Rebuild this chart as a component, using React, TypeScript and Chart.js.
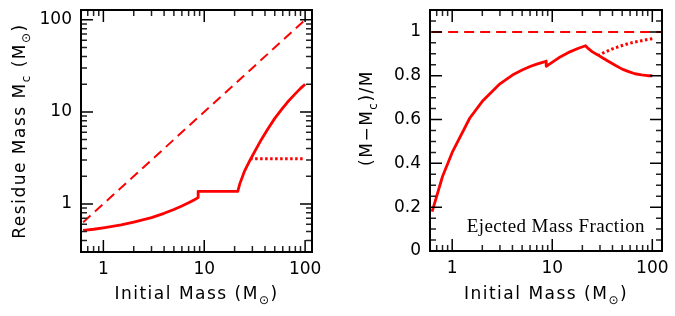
import React, { useEffect, useRef } from 'react';
import { Chart, registerables } from 'chart.js';
Chart.register(...registerables);

// ---------- data ----------
// Initial mass (Msun) and residue (core) mass Mc (Msun)
const MASS_LOW = [0.63, 0.8, 1, 1.5, 2, 3, 4, 5, 6, 7, 8, 8.7];
const CORE_LOW = [0.515, 0.53, 0.55, 0.59, 0.635, 0.71, 0.79, 0.87, 0.95, 1.03, 1.11, 1.17];
const MASS_MID = [8.7, 12, 15, 18, 21.5];
const CORE_MID = [1.37, 1.37, 1.37, 1.37, 1.37];
const MASS_HIGH = [21.5, 22.5, 25, 28.5, 32, 37, 43, 50, 58, 67, 78, 90, 100];
const CORE_HIGH = [1.37, 1.65, 2.25, 3.0, 3.8, 5.05, 6.6, 8.5, 10.5, 12.8, 15.3, 18, 20];
const MASS_ALT = [28.5, 100];
const CORE_ALT = [3.1, 3.1];
const MASS_IDENT = [0.63, 100];
const CORE_IDENT = [0.63, 100];

// Ejected mass fraction (M - Mc)/M
const FRAC_LOW = [0.18, 0.34, 0.45, 0.607, 0.683, 0.763, 0.803, 0.826, 0.842, 0.853, 0.861, 0.866];
const FRAC_MID = [0.843, 0.886, 0.909, 0.924, 0.937];
const FRAC_HIGH = [0.937, 0.927, 0.91, 0.895, 0.881, 0.864, 0.847, 0.83, 0.819, 0.809, 0.804, 0.8, 0.8];
const MASS_ALT_F = [28.5, 32, 37, 43, 50, 58, 67, 78, 90, 100];
const FRAC_ALT = [0.891, 0.903, 0.916, 0.928, 0.938, 0.947, 0.954, 0.96, 0.966, 0.969];
const MASS_TOTAL = [0.63, 125];
const FRAC_TOTAL = [1, 1];

// tick labels / tick marks
const LOG_LABELS = [1, 10, 100];
const X_MINOR = [0.7, 0.8, 0.9, 2, 3, 4, 5, 6, 7, 8, 9, 20, 30, 40, 50, 60, 70, 80, 90];
const LEFT_Y_MINOR = [0.4, 0.5, 0.6, 0.7, 0.8, 0.9, 2, 3, 4, 5, 6, 7, 8, 9, 20, 30, 40, 50, 60, 70, 80, 90];
const FRAC_LABELS = [0, 0.2, 0.4, 0.6, 0.8, 1];
const FRAC_MINOR = [0.05, 0.1, 0.15, 0.25, 0.3, 0.35, 0.45, 0.5, 0.55, 0.65, 0.7, 0.75, 0.85, 0.9, 0.95, 1.05];

const RED = '#ff0000';
const zip = (xs: number[], ys: number[]) => xs.map((x, i) => ({ x, y: ys[i] }));

type Part = { t: string; sub?: boolean };
type TitleSpec = { parts: Part[]; x: number; y: number; rot: number };

function drawRich(ctx: CanvasRenderingContext2D, spec: TitleSpec) {
  const font = '17px "DejaVu Sans"';
  const subFont = '12px "DejaVu Sans"';
  ctx.save();
  ctx.translate(spec.x, spec.y);
  ctx.rotate(spec.rot);
  (ctx as any).letterSpacing = '1.5px';
  ctx.textAlign = 'left';
  ctx.textBaseline = 'alphabetic';
  ctx.fillStyle = '#000';
  const widths = spec.parts.map((p) => {
    ctx.font = p.sub ? subFont : font;
    return ctx.measureText(p.t).width;
  });
  const total = widths.reduce((a, b) => a + b, 0);
  let x = -total / 2;
  spec.parts.forEach((p, i) => {
    ctx.font = p.sub ? subFont : font;
    ctx.fillText(p.t, x, p.sub ? 5 : 0);
    x += widths[i];
  });
  ctx.restore();
}

function framePlugin(cfg: {
  xMajor: number[]; xMinor: number[]; yMajor: number[]; yMinor: number[];
  titles: TitleSpec[]; note?: { text: string; x: number; y: number };
}) {
  return {
    id: 'frameTicks',
    afterDatasetsDraw(chart: any) {
      const { ctx, chartArea: a, scales } = chart;
      const xs = scales.x;
      const ys = scales.y;
      ctx.save();
      ctx.strokeStyle = '#222';
      ctx.lineWidth = 1.5;
      const MAJ = 12;
      const MIN = 6;
      const xTicks = (vals: number[], len: number) => {
        vals.forEach((v) => {
          const p = xs.getPixelForValue(v);
          if (p <= a.left + 1 || p >= a.right - 1) return;
          ctx.beginPath();
          ctx.moveTo(p, a.bottom);
          ctx.lineTo(p, a.bottom - len);
          ctx.moveTo(p, a.top);
          ctx.lineTo(p, a.top + len);
          ctx.stroke();
        });
      };
      const yTicks = (vals: number[], len: number) => {
        vals.forEach((v) => {
          const p = ys.getPixelForValue(v);
          if (p <= a.top + 1 || p >= a.bottom - 1) return;
          ctx.beginPath();
          ctx.moveTo(a.left, p);
          ctx.lineTo(a.left + len, p);
          ctx.moveTo(a.right, p);
          ctx.lineTo(a.right - len, p);
          ctx.stroke();
        });
      };
      xTicks(cfg.xMinor, MIN);
      yTicks(cfg.yMinor, MIN);
      ctx.strokeStyle = '#000';
      xTicks(cfg.xMajor, MAJ);
      yTicks(cfg.yMajor, MAJ);
      ctx.lineWidth = 2;
      ctx.strokeRect(a.left, a.top, a.right - a.left, a.bottom - a.top);
      ctx.restore();
    },
    afterDraw(chart: any) {
      const ctx = chart.ctx as CanvasRenderingContext2D;
      cfg.titles.forEach((t) => drawRich(ctx, t));
      if (cfg.note) {
        ctx.save();
        ctx.font = '19px "Liberation Serif"';
        (ctx as any).letterSpacing = '0.4px';
        ctx.fillStyle = '#000';
        ctx.textAlign = 'right';
        ctx.textBaseline = 'alphabetic';
        ctx.fillText(cfg.note.text, cfg.note.x, cfg.note.y);
        ctx.restore();
      }
    },
  };
}

const tickFont = { family: 'DejaVu Sans', size: 17 };

function axisX(min: number, max: number, height: number) {
  return {
    type: 'logarithmic',
    min,
    max,
    grid: { display: false, drawTicks: false },
    border: { display: false },
    ticks: { font: tickFont, color: '#000', padding: 7, autoSkip: false, maxRotation: 0, callback: (v: any) => String(v) },
    afterBuildTicks: (s: any) => { s.ticks = LOG_LABELS.map((v) => ({ value: v })); },
    afterFit: (s: any) => { s.height = height; s.paddingLeft = 0; s.paddingRight = 0; s.paddingTop = 0; s.paddingBottom = 0; },
  };
}

function axisY(type: string, min: number, max: number, width: number, labels: number[]) {
  return {
    type,
    min,
    max,
    grid: { display: false, drawTicks: false },
    border: { display: false },
    ticks: { font: tickFont, color: '#000', padding: 9, autoSkip: false, callback: (v: any) => String(v) },
    afterBuildTicks: (s: any) => { s.ticks = labels.map((v) => ({ value: v })); },
    afterFit: (s: any) => { s.width = width; s.paddingLeft = 0; s.paddingRight = 0; s.paddingTop = 0; s.paddingBottom = 0; },
  };
}

const baseOpts = {
  responsive: false,
  animation: false,
  plugins: { legend: { display: false }, tooltip: { enabled: false } },
  elements: { point: { radius: 0 }, line: { tension: 0, borderJoinStyle: 'round' } },
};

export default function App() {
  const leftRef = useRef<HTMLCanvasElement>(null);
  const rightRef = useRef<HTMLCanvasElement>(null);

  useEffect(() => {
    const left = new Chart(leftRef.current!, {
      type: 'line',
      data: {
        datasets: [
          { data: zip(MASS_IDENT, CORE_IDENT), borderColor: RED, borderWidth: 2, borderDash: [10, 6] },
          { data: zip(MASS_ALT, CORE_ALT), borderColor: RED, borderWidth: 3, borderDash: [2.5, 2.5] },
          {
            data: [...zip(MASS_LOW, CORE_LOW), ...zip(MASS_MID, CORE_MID), ...zip(MASS_HIGH, CORE_HIGH)],
            borderColor: RED, borderWidth: 2.8,
          },
        ],
      },
      options: {
        ...baseOpts,
        layout: { padding: { left: 0, right: 28, top: 10, bottom: 0 } },
        scales: {
          x: axisX(0.63, 117, 64),
          y: axisY('logarithmic', 0.32, 128, 81, LOG_LABELS),
        },
      } as any,
      plugins: [
        framePlugin({
          xMajor: LOG_LABELS, xMinor: X_MINOR, yMajor: LOG_LABELS, yMinor: LEFT_Y_MINOR,
          titles: [
            { parts: [{ t: 'Initial Mass (M' }, { t: '⊙', sub: true }, { t: ')' }], x: 196.5, y: 299, rot: 0 },
            { parts: [{ t: 'Residue Mass M' }, { t: 'c', sub: true }, { t: ' (M' }, { t: '⊙', sub: true }, { t: ')' }], x: 25, y: 131, rot: -Math.PI / 2 },
          ],
        }),
      ],
    } as any);

    const right = new Chart(rightRef.current!, {
      type: 'line',
      data: {
        datasets: [
          { data: zip(MASS_TOTAL, FRAC_TOTAL), borderColor: RED, borderWidth: 2, borderDash: [10, 6] },
          { data: zip(MASS_ALT_F, FRAC_ALT), borderColor: RED, borderWidth: 3, borderDash: [2.5, 2.5] },
          {
            data: [...zip(MASS_LOW, FRAC_LOW), ...zip(MASS_MID, FRAC_MID), ...zip(MASS_HIGH, FRAC_HIGH)],
            borderColor: RED, borderWidth: 2.8,
          },
        ],
      },
      options: {
        ...baseOpts,
        layout: { padding: { left: 0, right: 13, top: 10, bottom: 0 } },
        scales: {
          x: axisX(0.63, 125, 65),
          y: { ...axisY('linear', 0, 1.1, 90, FRAC_LABELS) },
        },
      } as any,
      plugins: [
        framePlugin({
          xMajor: LOG_LABELS, xMinor: X_MINOR, yMajor: FRAC_LABELS, yMinor: FRAC_MINOR,
          titles: [
            { parts: [{ t: 'Initial Mass (M' }, { t: '⊙', sub: true }, { t: ')' }], x: 206, y: 299, rot: 0 },
            { parts: [{ t: '(M−M' }, { t: 'c', sub: true }, { t: ')/M' }], x: 32, y: 118, rot: -Math.PI / 2 },
          ],
          note: { text: 'Ejected Mass Fraction', x: 305, y: 232 },
        }),
      ],
    } as any);

    return () => {
      left.destroy();
      right.destroy();
    };
  }, []);

  return (
    <div style={{ position: 'absolute', left: 0, top: 0, width: 675, height: 316, background: '#fff' }}>
      <canvas ref={leftRef} width={340} height={316} style={{ position: 'absolute', left: 0, top: 0 }} />
      <canvas ref={rightRef} width={335} height={316} style={{ position: 'absolute', left: 340, top: 0 }} />
    </div>
  );
}
